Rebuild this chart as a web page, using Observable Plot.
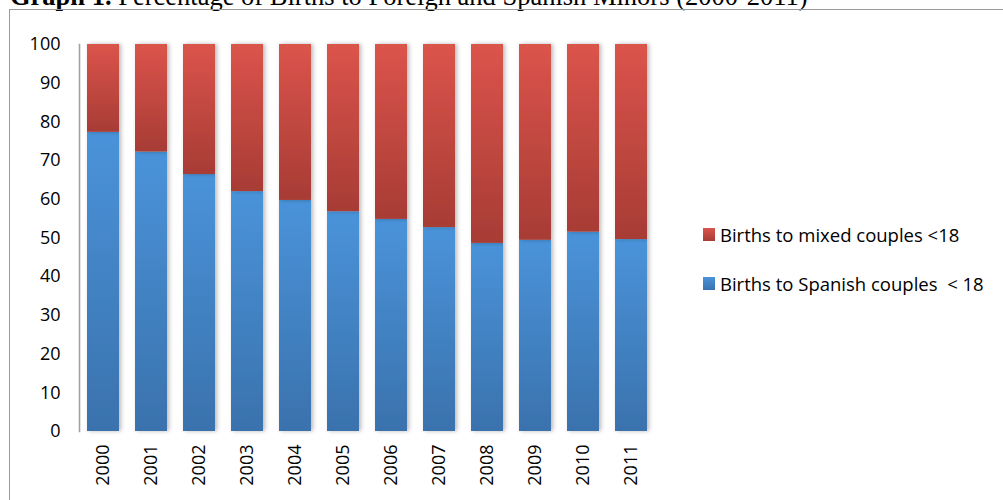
<!DOCTYPE html>
<html>
<head>
<meta charset="utf-8">
<script src="https://cdn.jsdelivr.net/npm/d3@7"></script>
<script src="https://cdn.jsdelivr.net/npm/@observablehq/plot@0.6"></script>
<style>
  html, body { margin: 0; padding: 0; background: #fff; }
  #page { position: relative; width: 1003px; height: 500px; overflow: hidden; font-family: "Open Sans", sans-serif; }
  #title { position: absolute; left: 10px; top: -17px; font-family: "Liberation Serif", "Times New Roman", serif; font-size: 26.5px; line-height: 26.5px; white-space: nowrap; color: #000; }
  #frame { position: absolute; left: 9px; top: 9px; width: 1100px; height: 600px; border-left: 1px solid #9a9a9a; border-top: 1px solid #9a9a9a; }
  #chart { position: absolute; left: 0; top: 0; }
  #legend { position: absolute; left: 703px; top: 222px; font-size: 18.5px; color: #000; }
  .item { display: flex; align-items: center; height: 24px; margin-bottom: 25px; white-space: pre; }
  .sw { width: 12px; height: 13px; margin-right: 5px; }
</style>
</head>
<body>
<div id="page">
  <div id="title"><b>Graph 1.</b> Percentage of Births to Foreign and Spanish Minors (2000-2011)</div>
  <div id="frame"></div>
  <div id="chart"></div>
  <div id="legend"></div>
</div>
<script>
// Years on the category axis
const years = ["2000","2001","2002","2003","2004","2005","2006","2007","2008","2009","2010","2011"];
// Share of births to Spanish couples under 18 (%)
const spanish = [77.3, 72.2, 66.4, 62.0, 59.7, 56.8, 54.8, 52.7, 48.6, 49.4, 51.5, 49.6];
// Share of births to mixed couples under 18 (%)
const mixed = [22.7, 27.8, 33.6, 38.0, 40.3, 43.2, 45.2, 47.3, 51.4, 50.6, 48.5, 50.4];
// Y-axis ticks
const yTicks = [0, 10, 20, 30, 40, 50, 60, 70, 80, 90, 100];
// Series names, in stacking order (bottom first)
const seriesNames = ["Births to Spanish couples  < 18", "Births to mixed couples <18"];

const rows = [];
years.forEach((yr, i) => {
  rows.push({year: yr, series: seriesNames[0], value: spanish[i]});
  rows.push({year: yr, series: seriesNames[1], value: mixed[i]});
});

const chart = Plot.plot({
  width: 700,
  height: 500,
  marginLeft: 79,
  marginRight: 45,
  marginTop: 44,
  marginBottom: 69,
  style: {fontFamily: "'Open Sans', sans-serif", fontSize: "18px", color: "#000", background: "transparent", overflow: "visible"},
  x: {domain: years, paddingInner: 1/3, paddingOuter: 1/6, axis: null},
  y: {domain: [0, 100], axis: null},
  color: {domain: seriesNames, range: ["url(#gBlue)", "url(#gRed)"]},
  marks: [
    Plot.ruleY(yTicks, {stroke: "#a2a2a2", strokeWidth: 1.6, filter: "url(#shadowLine)"}),
    Plot.frame({anchor: "left", stroke: "#a2a2a2", strokeWidth: 1.6}),
    Plot.barY(rows, Plot.stackY({x: "year", y: "value", fill: "series", order: seriesNames})),
    Plot.axisY({ticks: yTicks, tickSize: 0, tickPadding: 19, fontSize: 18, fill: "#000", label: null}),
    Plot.axisX({tickRotate: -90, tickSize: 0, tickPadding: 13, fontSize: 18, fill: "#000", label: null})
  ]
});

// Gradients and soft shadows for bars
const svg = d3.select(chart);
const defs = svg.insert("defs", ":first-child");
function grad(id, top, bottom) {
  const g = defs.append("linearGradient").attr("id", id).attr("x1", 0).attr("y1", 0).attr("x2", 0).attr("y2", 1);
  g.append("stop").attr("offset", "0%").attr("stop-color", top);
  g.append("stop").attr("offset", "100%").attr("stop-color", bottom);
}
grad("gRed", "#db544b", "#a73c35");
grad("gBlue", "#4a93da", "#3a72ad");
const f = defs.append("filter").attr("id", "shadow").attr("x", "-30%").attr("y", "-5%").attr("width", "160%").attr("height", "110%");
f.append("feDropShadow").attr("dx", 2).attr("dy", 0).attr("stdDeviation", 2.2).attr("flood-color", "#000").attr("flood-opacity", 0.28);
const f2 = defs.append("filter").attr("id", "shadowLine").attr("x", "-5%").attr("y", "-50%").attr("width", "110%").attr("height", "200%");
f2.append("feDropShadow").attr("dx", 0).attr("dy", 1).attr("stdDeviation", 0.8).attr("flood-color", "#000").attr("flood-opacity", 0.25);
svg.selectAll("rect").filter(function() { const fl = this.getAttribute("fill"); return fl && fl.startsWith("url"); }).attr("filter", "url(#shadow)");

document.getElementById("chart").appendChild(chart);

// Legend: mixed first, then Spanish
const legend = d3.select("#legend");
[[seriesNames[1], "#db544b", "#a73c35"], [seriesNames[0], "#4a93da", "#3a72ad"]].forEach(([name, top, bottom]) => {
  const item = legend.append("div").attr("class", "item");
  item.append("div").attr("class", "sw").style("background", `linear-gradient(${top}, ${bottom})`);
  item.append("span").text(name);
});
</script>
</body>
</html>
